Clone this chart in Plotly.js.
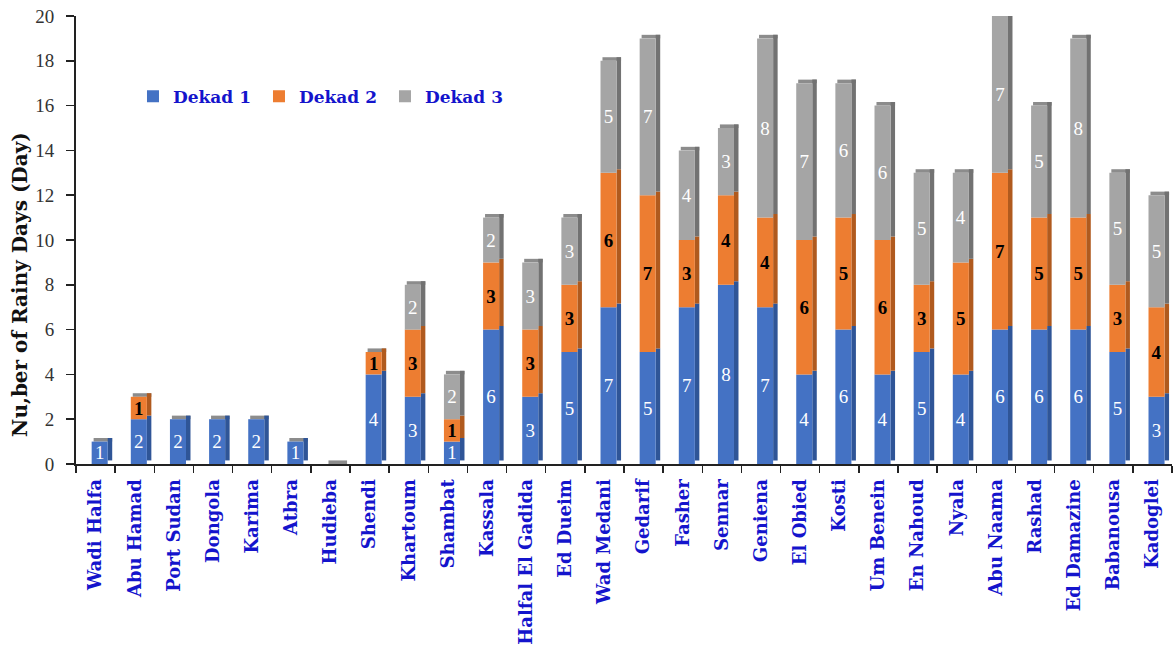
<!DOCTYPE html>
<html>
<head>
<meta charset="utf-8">
<script src="https://cdn.plot.ly/plotly-3.0.1.min.js"></script>
<style>html,body{margin:0;padding:0;background:#fff;}#chart{width:1174px;height:649px;}</style>
</head>
<body>
<div id="chart"></div>
<script>
var stations = ["Wadi Halfa","Abu Hamad","Port Sudan","Dongola","Karima","Atbra","Hudieba","Shendi","Khartoum","Shambat","Kassala","Halfal El Gadida","Ed Dueim","Wad Medani","Gedarif","Fasher","Sennar","Geniena","El Obied","Kosti","Um Benein","En Nahoud","Nyala","Abu Naama","Rashad","Ed Damazine","Babanousa","Kadoglei"];
var dekad1 = [1,2,2,2,2,1,0,4,3,1,6,3,5,7,5,7,8,7,4,6,4,5,4,6,6,6,5,3];
var dekad2 = [0,1,0,0,0,0,0,1,3,1,3,3,3,6,7,3,4,4,6,5,6,3,5,7,5,5,3,4];
var dekad3 = [0,0,0,0,0,0,0,0,2,2,2,3,3,5,7,4,3,8,7,6,6,5,4,7,5,8,5,5];
var seriesNames = ["Dekad 1","Dekad 2","Dekad 3"];

var colors = ["#4472C4","#ED7D31","#A5A5A5"];
var sideColors = ["#2F5597","#B05A1E","#727272"];
var topColor = "#8C8C8C";
var textColors = ["#ffffff","#000000","#ffffff"];

var serif = "Liberation Serif, DejaVu Serif, serif";
var serifWide = "DejaVu Serif, Liberation Serif, serif";
var blue = "#1414CC";

// 3D look (styling only)
var depthY = 0.16, frontOff = -0.10, frontW = 0.41, sideW = 0.115;

function mkText(arr){ return arr.map(function(v){ return v > 0 ? String(v) : ""; }); }

var series = [dekad1, dekad2, dekad3];
var bases = [];
var running = stations.map(function(){ return 0; });
series.forEach(function(vals){
  bases.push(running.slice());
  running = running.map(function(b, j){ return b + vals[j]; });
});
var totals = running;

var data = [];
// top faces
data.push({
  type: "bar", x: stations, y: totals.map(function(){ return depthY; }),
  base: totals, offset: frontOff + 0.05, width: frontW + sideW - 0.05,
  marker: {color: topColor, line: {width: 0}}, showlegend: false, hoverinfo: "skip"
});
// side faces
series.forEach(function(vals, i){
  data.push({
    type: "bar", x: stations, y: vals,
    base: bases[i].map(function(b){ return b + depthY; }),
    offset: frontOff + frontW, width: sideW,
    marker: {color: sideColors[i], line: {width: 0}}, showlegend: false, hoverinfo: "skip"
  });
});
// front faces
series.forEach(function(vals, i){
  data.push({
    type: "bar", name: seriesNames[i], x: stations, y: vals, base: bases[i],
    offset: frontOff, width: frontW,
    text: mkText(vals), textposition: "inside", insidetextanchor: "middle",
    constraintext: "none", textangle: 0,
    textfont: {family: serif, size: 19, color: textColors[i], weight: i === 1 ? "bold" : "normal"},
    marker: {color: colors[i], line: {width: 0}},
    hoverinfo: "x+y+name"
  });
});

var layout = {
  width: 1174, height: 649,
  margin: {l: 76, r: 2, t: 16, b: 185},
  barmode: "overlay",
  paper_bgcolor: "#fff",
  plot_bgcolor: "#fff",
  showlegend: true,
  legend: {
    orientation: "h", traceorder: "normal",
    x: 0.052, y: 0.82, xanchor: "left", yanchor: "middle",
    font: {family: serifWide, size: 17, color: blue, weight: "bold"},
    bgcolor: "rgba(0,0,0,0)", itemwidth: 30, entrywidth: 81
  },
  xaxis: {
    type: "category",
    tickangle: -90,
    tickfont: {family: serifWide, size: 18, color: blue, weight: "bold"},
    showline: true, linecolor: "#222", linewidth: 2,
    ticks: "outside", tickson: "boundaries", ticklen: 7, tickcolor: "#222", tickwidth: 1.5,
    ticklabelstandoff: 6,
    showgrid: false, zeroline: false
  },
  yaxis: {
    range: [0, 20], dtick: 2, tick0: 0,
    tickfont: {family: serif, size: 19, color: "#333"},
    showline: true, linecolor: "#222", linewidth: 2,
    ticks: "outside", ticklen: 8, tickcolor: "#222", tickwidth: 1.5,
    ticklabelstandoff: 8,
    showgrid: false, zeroline: false
  },
  annotations: [{
    text: "Nu,ber of Rainy Days (Day)",
    xref: "paper", yref: "paper", x: -0.051, y: 0.40,
    xanchor: "center", yanchor: "middle", textangle: -90, showarrow: false,
    font: {family: serifWide, size: 20, color: "#111", weight: "bold"}
  }]
};

Plotly.newPlot("chart", data, layout, {displayModeBar: false, staticPlot: true});
</script>
</body>
</html>
